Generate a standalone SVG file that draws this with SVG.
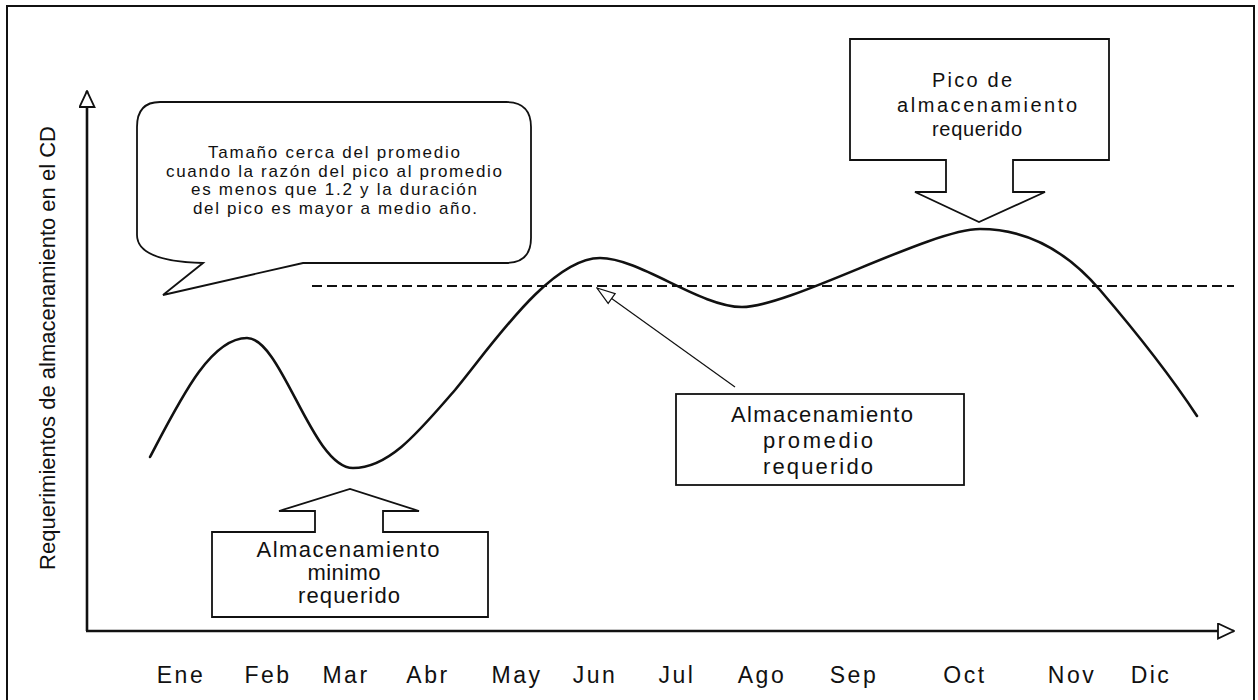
<svg xmlns="http://www.w3.org/2000/svg" width="1258" height="700" viewBox="0 0 1258 700">
  <style>
    .frame { fill: none; stroke: #111; stroke-width: 2; }
    .axis { fill: none; stroke: #111; stroke-width: 2.6; }
    .curve { fill: none; stroke: #111; stroke-width: 2.6; stroke-linecap: round; stroke-linejoin: round; }
    .avg { fill: none; stroke: #111; stroke-width: 2; stroke-dasharray: 10 5; }
    .box { fill: #fff; stroke: #111; stroke-width: 1.8; stroke-linejoin: miter; }
    .pointer { fill: none; stroke: #111; stroke-width: 1.2; }
    text { font-family: "Liberation Sans", Arial, sans-serif; fill: #111; }
    .month { font-size: 23px; letter-spacing: 2.5px; text-anchor: middle; }
    .ylabel { font-size: 22px; text-anchor: middle; }
    .note { font-size: 17px; text-anchor: middle; }
    .lbl { font-size: 22px; text-anchor: middle; }
    .lbl-sm { font-size: 20px; }
  </style>
  <defs>
    <marker id="axisHead" markerUnits="userSpaceOnUse" viewBox="0 0 18 17" refX="17" refY="8.5" markerWidth="18" markerHeight="17" orient="auto">
      <path d="M1,1 L17,8.5 L1,16 Z" fill="#fff" stroke="#111" stroke-width="1.8" stroke-linejoin="miter"/>
    </marker>
    <marker id="openHead" markerUnits="userSpaceOnUse" viewBox="0 0 20 14" refX="19" refY="7" markerWidth="20" markerHeight="14" orient="auto">
      <path d="M1,1 L19,7 L1,13 Z" fill="#fff" stroke="#111" stroke-width="1.2"/>
    </marker>
  </defs>

  <rect width="1258" height="700" fill="#fff"/>
  <!-- outer frame -->
  <rect class="frame" x="7" y="6" width="1247" height="720"/>

  <!-- axes -->
  <g id="axes">
    <line class="axis" x1="87" y1="631" x2="87" y2="91" marker-end="url(#axisHead)"/>
    <line class="axis" x1="86" y1="631" x2="1234" y2="631" marker-end="url(#axisHead)"/>
    <text class="ylabel" transform="translate(55,348) rotate(-90)">Requerimientos de almacenamiento en el CD</text>
  </g>

  <!-- month labels -->
  <g id="months">
    <text class="month" x="181" y="683">Ene</text>
    <text class="month" x="268" y="683">Feb</text>
    <text class="month" x="346" y="683">Mar</text>
    <text class="month" x="428" y="683">Abr</text>
    <text class="month" x="517" y="683">May</text>
    <text class="month" x="595" y="683">Jun</text>
    <text class="month" x="677" y="683">Jul</text>
    <text class="month" x="762" y="683">Ago</text>
    <text class="month" x="854" y="683">Sep</text>
    <text class="month" x="965" y="683">Oct</text>
    <text class="month" x="1072" y="683">Nov</text>
    <text class="month" x="1151" y="683">Dic</text>
  </g>

  <!-- average level and storage curve -->
  <g id="connectors">
    <line class="avg" x1="312" y1="286" x2="1234" y2="286"/>
    <path class="curve" d="M150,457 C180,400 210,338 247,338 C282,338 312,468 353,468 C390,468 420,430 455,390 C490,348 550,258 600,258 C640,258 700,307 742,307 C790,307 930,229 980,229 C1030,229 1070,255 1100,290 C1130,325 1170,375 1197,416"/>
    <line class="pointer" x1="735" y1="387" x2="597" y2="288" marker-end="url(#openHead)"/>
  </g>

  <!-- speech bubble note -->
  <g id="note-bubble">
    <path class="box" d="M160,102 H506 Q531,102 531,127 V238 Q531,263 506,263 H303 L163,295 L203,263 C165,262 137,255 137,235 V127 Q137,102 160,102 Z"/>
    <text class="note" x="334" y="158" textLength="252" lengthAdjust="spacing">Tamaño cerca del promedio</text>
    <text class="note" x="334" y="177" textLength="336" lengthAdjust="spacing">cuando la razón del pico al promedio</text>
    <text class="note" x="334" y="195" textLength="286" lengthAdjust="spacing">es menos que 1.2 y la duración</text>
    <text class="note" x="335" y="214" textLength="284" lengthAdjust="spacing">del pico es mayor a medio año.</text>
  </g>

  <!-- peak storage callout -->
  <g id="node-pico">
    <path class="box" d="M850,39 H1109 V160 H1013 V192 H1045 L979,222 L915,192 H946 V160 H850 Z"/>
    <text class="lbl-sm" x="932" y="87" textLength="80" lengthAdjust="spacing">Pico de</text>
    <text class="lbl-sm" x="897" y="112" textLength="180" lengthAdjust="spacing">almacenamiento</text>
    <text class="lbl-sm" x="932" y="136" textLength="90" lengthAdjust="spacing">requerido</text>
  </g>

  <!-- average storage label -->
  <g id="node-promedio">
    <rect class="box" x="676" y="394" width="288" height="91"/>
    <text class="lbl" x="822" y="422" textLength="182" lengthAdjust="spacing">Almacenamiento</text>
    <text class="lbl" x="818" y="448" textLength="110" lengthAdjust="spacing">promedio</text>
    <text class="lbl" x="818" y="474" textLength="110" lengthAdjust="spacing">requerido</text>
  </g>

  <!-- minimum storage callout -->
  <g id="node-minimo">
    <path class="box" d="M212,532 H315 V511 H279 L350,489 L419,511 H383 V532 H488 V617 H212 Z"/>
    <text class="lbl" x="348" y="557" textLength="183" lengthAdjust="spacing">Almacenamiento</text>
    <text class="lbl" x="344" y="580" textLength="73" lengthAdjust="spacing">minimo</text>
    <text class="lbl" x="349" y="603" textLength="102" lengthAdjust="spacing">requerido</text>
  </g>
</svg>
